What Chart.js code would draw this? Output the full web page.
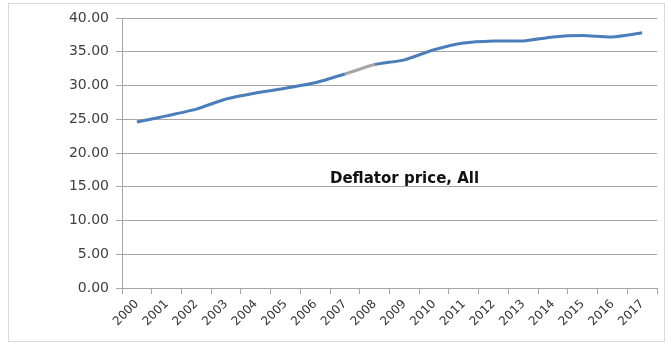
<!DOCTYPE html>
<html lang="en">
<head>
    <meta charset="UTF-8">
    <title>Deflator price, All</title>
    <script src="https://cdn.jsdelivr.net/npm/chart.js"></script>
    <style>
        body { margin: 0; background: #fff; }
        #wrap { position: relative; width: 668px; height: 345px; }
    </style>
</head>
<body>
    <div id="wrap"><canvas id="grafica" width="668" height="345"></canvas></div>

    <script>
        // Datos
        const years = ['2000','2001','2002','2003','2004','2005','2006','2007','2008',
                       '2009','2010','2011','2012','2013','2014','2015','2016','2017'];
        const deflator = [24.6, 25.5, 26.5, 28.0, 28.9, 29.6, 30.4, 31.7, 33.1,
                          33.8, 35.3, 36.3, 36.6, 36.6, 37.2, 37.4, 37.2, 37.8];
        const chartTitle = 'Deflator price, All';

        // marco exterior y texto dentro del area de la grafica
        const extras = {
            id: 'extras',
            beforeDraw(chart) {
                const c = chart.ctx;
                c.save();
                c.strokeStyle = '#d9d9d9';
                c.lineWidth = 1;
                c.strokeRect(8.5, 3.5, 656, 338);
                c.restore();
            },
            afterDatasetsDraw(chart) {
                const a = chart.chartArea;
                const c = chart.ctx;
                c.save();
                c.font = 'bold 15px "DejaVu Sans"';
                c.fillStyle = '#111';
                c.textAlign = 'left';
                c.textBaseline = 'alphabetic';
                c.fillText(chartTitle, a.left + 208, a.top + 165);
                c.restore();
            }
        };

        new Chart(document.getElementById('grafica'), {
            type: 'line',
            data: {
                labels: years,
                datasets: [{
                    data: deflator,
                    borderColor: '#4a7ebb',
                    borderWidth: 3,
                    pointRadius: 0,
                    tension: 0.2,
                    segment: {
                        borderColor: ctx => ctx.p0DataIndex === 7 ? '#a6a6a6' : undefined
                    }
                }]
            },
            plugins: [extras],
            options: {
                responsive: false,
                animation: false,
                layout: { padding: { top: 18, right: 11, left: 0, bottom: 0 } },
                plugins: {
                    legend: { display: false },
                    tooltip: { enabled: false }
                },
                scales: {
                    x: {
                        offset: true,
                        grid: { drawOnChartArea: false, offset: true, tickLength: 6, color: '#a6a6a6' },
                        border: { display: true, color: '#a6a6a6' },
                        ticks: {
                            font: { family: 'DejaVu Sans', size: 12 },
                            color: '#333',
                            maxRotation: 45,
                            minRotation: 45,
                            padding: 3,
                            autoSkip: false
                        },
                        afterFit: s => { s.height = 57; }
                    },
                    y: {
                        min: 0,
                        max: 40,
                        grid: { color: '#a6a6a6', tickLength: 6 },
                        border: { display: true, color: '#a6a6a6' },
                        ticks: {
                            stepSize: 5,
                            font: { family: 'DejaVu Sans', size: 14 },
                            color: '#404040',
                            padding: 7,
                            callback: v => v.toFixed(2)
                        },
                        afterFit: s => { s.width = 122; }
                    }
                }
            }
        });
    </script>
</body>
</html>
